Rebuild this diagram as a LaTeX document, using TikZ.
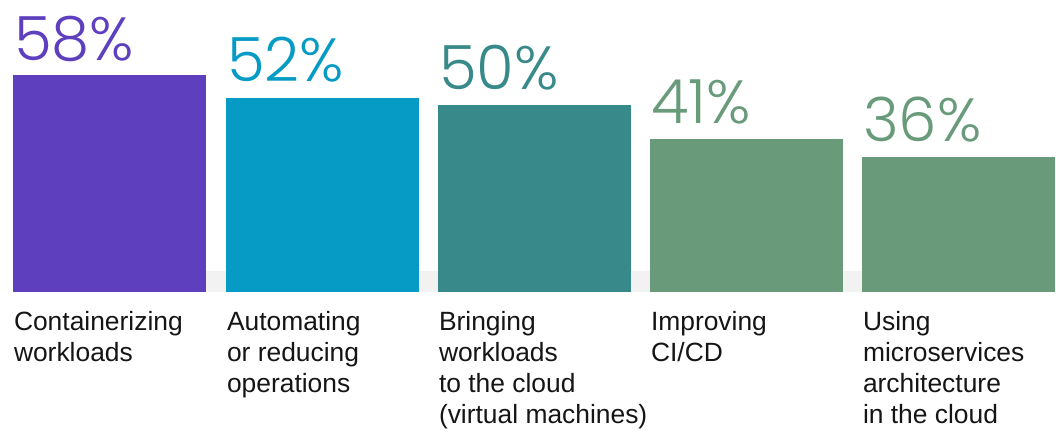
\documentclass[tikz,border=0pt]{standalone}
\usepackage{fontspec}
\setmainfont{Liberation Sans}
\IfFontExistsTF{Poppins Light}{\newfontfamily\pctfont{Poppins Light}}{\newfontfamily\pctfont{Poppins}}
\definecolor{cpurple}{HTML}{5E40BE}
\definecolor{cblue}{HTML}{059BC5}
\definecolor{cteal}{HTML}{388A8A}
\definecolor{cgreen}{HTML}{699B7B}
\definecolor{cband}{HTML}{F2F2F2}
\definecolor{ctext}{HTML}{151515}
\begin{document}
\begin{tikzpicture}[x=1pt,y=-1pt,
  bar/.style={draw=none,inner sep=0,outer sep=0,anchor=south west,minimum width=193pt},
  pct/.style={inner sep=0,outer sep=0,anchor=base west,font=\pctfont\fontsize{61}{61}\selectfont},
  lbl/.style={inner sep=0,outer sep=0,anchor=base west,align=left,text=ctext,font=\fontsize{26.4}{31}\selectfont}]
\useasboundingbox (0,0) rectangle (1056,429);
\fill[cband] (13,271) rectangle (1055,292);
\node[bar,fill=cpurple,minimum height=217pt] (b1) at (13,292) {};
\node[bar,fill=cblue,minimum height=194pt] (b2) at (226,292) {};
\node[bar,fill=cteal,minimum height=187pt] (b3) at (438,292) {};
\node[bar,fill=cgreen,minimum height=153pt] (b4) at (650,292) {};
\node[bar,fill=cgreen,minimum height=135pt] (b5) at (862,292) {};
\node[pct,text=cpurple] (p1) at (14,60) {58\%};
\node[pct,text=cblue] (p2) at (227,81) {52\%};
\node[pct,text=cteal] (p3) at (439,89) {50\%};
\node[pct,text=cgreen] (p4) at (651,123) {41\%};
\node[pct,text=cgreen] (p5) at (863,141) {36\%};
\node[lbl] (l1) at (14,361) {Containerizing\\workloads};
\node[lbl] (l2) at (227,392) {Automating\\or reducing\\operations};
\node[lbl] (l3) at (439,423) {Bringing\\workloads\\to the cloud\\(virtual machines)};
\node[lbl] (l4) at (651,361) {Improving\\CI/CD};
\node[lbl] (l5) at (863,423) {Using\\microservices\\architecture\\in the cloud};
\end{tikzpicture}
\end{document}
